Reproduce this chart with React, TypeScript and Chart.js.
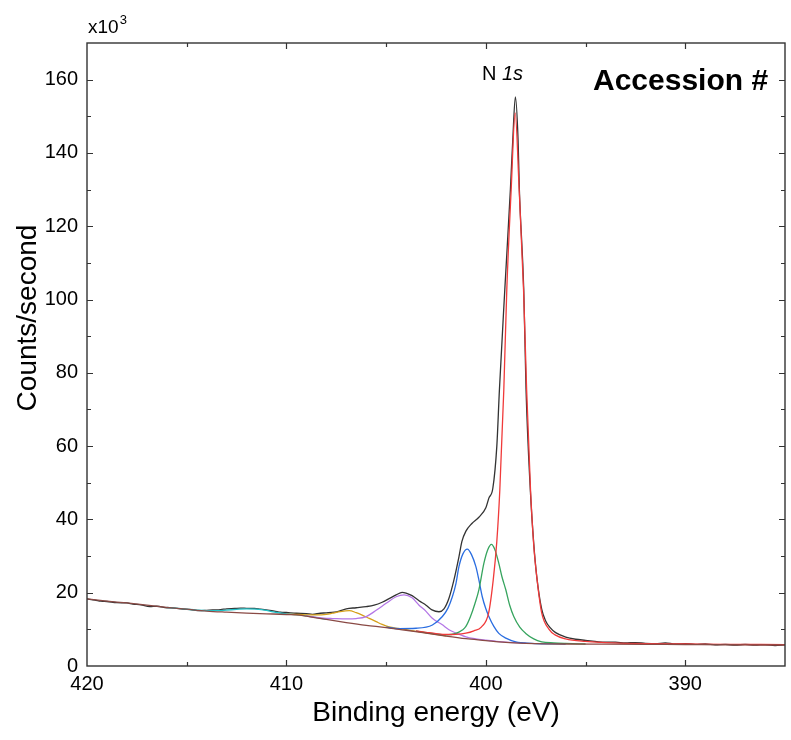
import React, { useEffect, useRef } from 'react';
import Chart from 'chart.js/auto';

type Pt = [number, number];

// binding energy (eV), counts/second in thousands
const measured: Pt[] = [
  [420.0, 18.3], [419.6, 18.0], [419.3, 17.7], [419.0, 17.6], [418.5, 17.3], [418.0, 17.2],
  [417.7, 16.9], [417.3, 16.7], [416.85, 16.2], [416.5, 16.3], [416.0, 15.9], [415.6, 15.8],
  [415.2, 15.5], [414.8, 15.4], [414.35, 15.1], [414.0, 15.2], [413.7, 15.3], [413.3, 15.4],
  [413.0, 15.6], [412.6, 15.7], [412.3, 15.8], [412.0, 15.75], [411.6, 15.7], [411.3, 15.5],
  [411.0, 15.3], [410.6, 15.0], [410.3, 14.7], [410.0, 14.6], [409.5, 14.4], [409.0, 14.3],
  [408.7, 14.1], [408.3, 14.4], [408.0, 14.5], [407.6, 14.7], [407.35, 15.0], [407.0, 15.6],
  [406.5, 15.9], [406.0, 16.2], [405.6, 16.6], [405.2, 17.4], [404.85, 18.4], [404.5, 19.4],
  [404.2, 20.1], [404.0, 19.9], [403.7, 19.2], [403.35, 17.8], [403.0, 16.6], [402.7, 15.3],
  [402.35, 14.8], [402.1, 15.6], [401.85, 18.5], [401.6, 23.5], [401.35, 29.8], [401.2, 34.0],
  [401.0, 36.8], [400.7, 38.9], [400.35, 40.6], [400.0, 43.2], [399.85, 45.8], [399.65, 48.5],
  [399.45, 60.0], [399.32, 75.4], [399.05, 102.7], [398.77, 130.0], [398.65, 143.6], [398.52, 155.3],
  [398.385, 143.6], [398.32, 130.0], [398.1, 102.7], [397.985, 75.4], [397.77, 48.0], [397.6, 33.5],
  [397.45, 24.5], [397.2, 15.5], [397.0, 12.3], [396.8, 10.6], [396.5, 9.1], [396.0, 7.9],
  [395.5, 7.3], [395.0, 7.0], [394.35, 6.6], [394.0, 6.5], [393.5, 6.5], [393.0, 6.3],
  [392.5, 6.4], [392.0, 6.2], [391.5, 6.1], [391.0, 6.3], [390.5, 6.0], [390.0, 6.1],
  [389.5, 5.9], [389.0, 6.0], [388.5, 5.8], [388.0, 5.9], [387.5, 5.7], [387.0, 5.9],
  [386.5, 5.7], [386.0, 5.8], [385.5, 5.6], [385.0, 5.8],
];

const background: Pt[] = [
  [420, 18.3], [419, 17.7], [418, 17.2], [417, 16.6], [416, 16.0], [415, 15.5], [414, 15.0],
  [413, 14.7], [412, 14.45], [411, 14.25], [410, 14.05], [409.35, 13.9], [409, 13.6], [408, 12.7],
  [407, 11.85], [406, 11.1], [405, 10.5], [404.35, 10.0], [404, 9.75], [403, 8.95], [402, 8.15],
  [401, 7.45], [400, 6.95], [399.35, 6.6], [399, 6.45], [398, 6.2], [397, 6.05], [396, 6.0],
  [394, 5.95], [392, 5.9], [390, 5.85], [388, 5.8], [385, 5.75],
];

const peakRed: Pt[] = [
  [403.5, 9.55], [403, 9.2], [402.5, 8.85], [402, 8.6], [401.5, 8.65], [401, 8.95], [400.6, 9.6],
  [400.23, 10.6], [399.86, 14.5], [399.63, 23.5], [399.45, 34], [399.3, 48], [399.1, 75.4],
  [398.95, 102.7], [398.73, 130], [398.53, 150.9], [398.33, 130], [398.11, 102.7], [397.955, 75.4],
  [397.76, 48], [397.6, 33], [397.43, 23.5], [397.2, 14.5], [396.83, 10.0], [396.53, 8.5],
  [396, 7.4], [395, 6.7], [394, 6.4], [393, 6.2], [392, 6.1], [390, 6.0], [388, 5.9], [385, 5.85],
];

const peakGreen: Pt[] = [
  [403.5, 9.5], [403, 9.1], [402.5, 8.7], [402, 8.5], [401.5, 8.9], [401.18, 9.8], [401, 10.8],
  [400.77, 13.5], [400.55, 17.0], [400.35, 20.8], [400.1, 28.0], [399.9, 31.8], [399.72, 33.2],
  [399.55, 31.8], [399.35, 28.0], [399.2, 24.5], [399.0, 20.8], [398.8, 16.5], [398.6, 13.5],
  [398.3, 10.6], [398.0, 8.9], [397.6, 7.4], [397.2, 6.6], [396.6, 6.3], [396.0, 6.15], [395.0, 6.0],
];

const peakBlue: Pt[] = [
  [405, 10.6], [404.35, 10.2], [403.5, 10.3], [402.68, 11.2], [402.18, 13.5], [401.9, 15.8],
  [401.68, 18.9], [401.5, 22.5], [401.35, 27.1], [401.15, 30.6], [400.93, 31.9], [400.72, 30.4],
  [400.5, 27.1], [400.35, 23.5], [400.18, 18.9], [400.0, 15.6], [399.85, 13.5], [399.6, 10.8],
  [399.35, 8.9], [399.0, 7.6], [398.5, 6.6], [397.7, 6.2], [397.0, 6.05], [396.0, 6.0],
];

const peakPurple: Pt[] = [
  [409, 13.65], [408.5, 13.25], [408, 13.0], [407.7, 12.95], [407, 12.85], [406.5, 12.95],
  [406, 13.5], [405.5, 15.2], [405, 17.1], [404.5, 18.9], [404.1, 19.4], [403.7, 18.6],
  [403.35, 16.6], [403, 14.9], [402.7, 13.1], [402.2, 11.3], [401.85, 9.9], [401.5, 9.0],
  [401, 7.95], [400.5, 7.4], [400, 7.05], [399.5, 6.75], [399, 6.5], [398, 6.22],
];

const peakYellow: Pt[] = [
  [410, 14.1], [409.35, 14.05], [409, 13.95], [408.5, 13.95], [408, 14.1], [407.7, 14.4],
  [407.3, 14.85], [406.85, 15.1], [406.5, 14.55], [406.2, 13.9], [405.85, 13.0], [405.5, 12.1],
  [405.2, 11.35], [404.85, 10.7], [404.4, 10.25], [404, 9.9], [403.5, 9.45], [403, 9.05], [402, 8.2],
];

const peakCyan: Pt[] = [
  [416, 16.0], [415, 15.5], [414.5, 15.25], [414, 15.1], [413.5, 15.1], [413, 15.25],
  [412.5, 15.45], [412, 15.6], [411.5, 15.5], [411, 15.15], [410.5, 14.6], [410, 14.2],
  [409.5, 14.0], [409, 13.65], [408, 12.72],
];

const xLabelValues = [420, 410, 400, 390];
const yLabelValues = [0, 20, 40, 60, 80, 100, 120, 140, 160];

const FONT = "'Liberation Sans', Arial, sans-serif";

const series = (label: string, pts: Pt[], color: string) => ({
  label,
  data: pts.map(([x, y]) => ({ x, y })),
  borderColor: color,
  backgroundColor: color,
  borderWidth: 1.3,
  pointRadius: 0,
  fill: false,
  cubicInterpolationMode: 'monotone' as const,
});

// frame with inward ticks on all four sides, plus the free text
const framePlugin = {
  id: 'frame',
  afterDraw(chart: any) {
    const { ctx, chartArea: a, scales } = chart;
    const xs = scales.x;
    const ys = scales.y;
    ctx.save();
    ctx.strokeStyle = '#333';
    ctx.lineWidth = 1.4;
    ctx.strokeRect(a.left, a.top, a.right - a.left, a.bottom - a.top);
    ctx.lineWidth = 1.2;
    ctx.beginPath();
    xs.ticks.forEach((t: any) => {
      const px = Math.round(xs.getPixelForValue(t.value)) + 0.5;
      if (px <= a.left + 2 || px >= a.right - 2) return;
      const len = xLabelValues.includes(t.value) ? 6 : 4;
      ctx.moveTo(px, a.bottom);
      ctx.lineTo(px, a.bottom - len);
      ctx.moveTo(px, a.top);
      ctx.lineTo(px, a.top + len);
    });
    ys.ticks.forEach((t: any) => {
      const py = Math.round(ys.getPixelForValue(t.value)) + 0.5;
      if (py <= a.top + 2 || py >= a.bottom - 2) return;
      const len = yLabelValues.includes(t.value) ? 6 : 4;
      ctx.moveTo(a.left, py);
      ctx.lineTo(a.left + len, py);
      ctx.moveTo(a.right, py);
      ctx.lineTo(a.right - len, py);
    });
    ctx.stroke();

    ctx.fillStyle = '#000';
    // y axis title
    ctx.save();
    ctx.translate(28, 318);
    ctx.rotate(-Math.PI / 2);
    ctx.font = `28px ${FONT}`;
    ctx.textAlign = 'center';
    ctx.textBaseline = 'middle';
    ctx.fillText('Counts/second', 0, 0);
    ctx.restore();

    // multiplier
    ctx.textAlign = 'left';
    ctx.textBaseline = 'alphabetic';
    ctx.font = `19px ${FONT}`;
    ctx.fillText('x10', 88, 33);
    const w = ctx.measureText('x10').width;
    ctx.font = `13px ${FONT}`;
    ctx.fillText('3', 88 + w + 1, 24);

    // peak label
    ctx.font = `20px ${FONT}`;
    ctx.fillText('N ', 482, 80);
    const wn = ctx.measureText('N ').width;
    ctx.font = `italic 20px ${FONT}`;
    ctx.fillText('1s', 482 + wn, 80);

    // sample tag
    ctx.font = `bold 30px ${FONT}`;
    ctx.fillText('Accession #', 593, 90);
    ctx.restore();
  },
};

export default function App() {
  const canvasRef = useRef<HTMLCanvasElement>(null);
  const chartRef = useRef<Chart | null>(null);

  useEffect(() => {
    if (!canvasRef.current) return;
    if (chartRef.current) chartRef.current.destroy();

    chartRef.current = new Chart(canvasRef.current, {
      type: 'line',
      data: {
        datasets: [
          series('Background', background, '#8a4a45'),
          series('Peak 1', peakRed, '#f03a3a'),
          series('Peak 2', peakGreen, '#36a45e'),
          series('Peak 3', peakBlue, '#2a6de0'),
          series('Peak 4', peakPurple, '#b477e6'),
          series('Peak 5', peakYellow, '#d6a01a'),
          series('Peak 6', peakCyan, '#24c2c8'),
          series('Data', measured, '#333333'),
        ],
      },
      options: {
        responsive: false,
        animation: false,
        events: [],
        layout: { padding: { left: 0, top: 43, right: 4, bottom: 0 } },
        plugins: {
          legend: { display: false },
          tooltip: { enabled: false },
          title: { display: false },
        },
        scales: {
          x: {
            type: 'linear',
            min: 385,
            max: 420,
            reverse: true,
            grid: { display: false, drawTicks: false },
            border: { display: false },
            ticks: {
              stepSize: 5,
              autoSkip: false,
              maxRotation: 0,
              padding: 6,
              color: '#000',
              font: { family: FONT, size: 20 },
              callback: (v: any) => (xLabelValues.includes(Number(v)) ? String(v) : ''),
            },
            title: {
              display: true,
              text: 'Binding energy (eV)',
              color: '#000',
              font: { family: FONT, size: 28 },
              padding: { top: 0, bottom: 10 },
            },
            afterFit: (scale: any) => {
              scale.height = 74;
            },
          },
          y: {
            type: 'linear',
            min: 0,
            max: 170,
            grid: { display: false, drawTicks: false },
            border: { display: false },
            ticks: {
              stepSize: 10,
              autoSkip: false,
              padding: 9,
              color: '#000',
              font: { family: FONT, size: 20 },
              callback: (v: any) => (yLabelValues.includes(Number(v)) ? String(v) : ''),
            },
            afterFit: (scale: any) => {
              scale.width = 87;
            },
          },
        },
      },
      plugins: [framePlugin],
    });

    return () => {
      if (chartRef.current) {
        chartRef.current.destroy();
        chartRef.current = null;
      }
    };
  }, []);

  return (
    <div style={{ position: 'absolute', left: 0, top: 0, width: 791, height: 740, background: '#fff' }}>
      <canvas ref={canvasRef} width={791} height={740} style={{ display: 'block' }}></canvas>
    </div>
  );
}
